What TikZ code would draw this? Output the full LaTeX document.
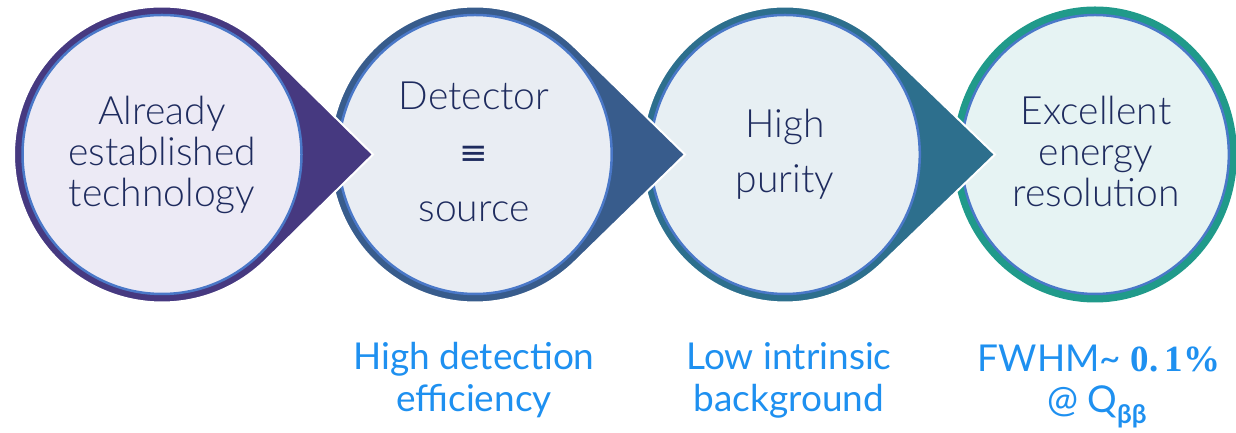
\documentclass[tikz,border=0pt]{standalone}
\usepackage{fontspec}
\setsansfont{Lato Light}[BoldFont={Lato Bold}]
\newfontfamily\botfont{Lato}
\newfontfamily\botbold{Lato Bold}
\newfontfamily\symfont{DejaVu Sans}
\newfontfamily\serbf{Liberation Serif}
\definecolor{ringA}{HTML}{463980}
\definecolor{ringB}{HTML}{385C8C}
\definecolor{ringC}{HTML}{2D6F8D}
\definecolor{ringD}{HTML}{209A8A}
\definecolor{fillA}{HTML}{ECEAF5}
\definecolor{fillB}{HTML}{E9EDF3}
\definecolor{fillC}{HTML}{E7EFF3}
\definecolor{fillD}{HTML}{E6F3F3}
\definecolor{innerblue}{HTML}{4A78C8}
\definecolor{navy}{HTML}{1E2B5E}
\definecolor{skyblue}{HTML}{1E90F0}
\newcommand\tdrop[5]{%
  \begin{scope}[shift={(#1,278.5)}, xscale=#2/148]
    \pgfmathsetmacro\tdd{(#3-#1)/#2*148}
    \pgfmathsetmacro\tdang{acos(148/\tdd)}
    \path[fill=#4, draw=white, line width=2pt] (\tdang:148)
      arc[start angle=\tdang, end angle=360-\tdang, radius=148] -- (\tdd,0) -- cycle;
    \path[fill=#5, draw=innerblue, line width=2.5pt] (0,0) circle[radius=139.5];
  \end{scope}}
\tikzset{
  toptext/.style={font=\sffamily\fontsize{39}{40}\selectfont, text=navy, inner sep=0pt, anchor=base},
  bottext/.style={font=\botfont\fontsize{37}{40}\selectfont, text=skyblue, inner sep=0pt, anchor=base}
}
\begin{document}
\begin{tikzpicture}[x=1pt,y=1pt]
\useasboundingbox (0,0) rectangle (1236,433);
% circle 4 (no arrow)
\begin{scope}[shift={(1095,278.5)}, xscale=142/148]
  \path[fill=ringD] (0,0) circle[radius=148];
  \path[fill=fillD, draw=innerblue, line width=2.5pt] (0,0) circle[radius=139.5];
\end{scope}
\tdrop{785}{143}{995}{ringC}{fillC}
\tdrop{475}{145}{685}{ringB}{fillB}
\tdrop{162}{148}{373}{ringA}{fillA}
% texts in circles
\node[toptext] (a1) at (162,308) {Already};
\node[toptext] (a2) at (162,267) {established};
\node[toptext] (a3) at (162,226) {technology};
\node[toptext] (b1) at (474,323) {Detector};
\node[toptext, anchor=center, font=\symfont\fontsize{34}{34}\selectfont] (b2) at (474,278) {≡};
\node[toptext] (b3) at (474,211) {source};
\node[toptext] (c1) at (785,295) {High};
\node[toptext] (c2) at (785,240) {purity};
\node[toptext] (d1) at (1096,308) {Excellent};
\node[toptext] (d2) at (1096,267) {energy};
\node[toptext] (d3) at (1096,226) {resolution};
% bottom texts
\node[bottext] (e1) at (474,63) {High detection};
\node[bottext] (e2) at (474,21) {efficiency};
\node[bottext] (f1) at (789,63) {Low intrinsic};
\node[bottext] (f2) at (789,21) {background};
\node[bottext] (g1) at (1099,61) {FWHM\char"7E{} {\serbf\bfseries 0.\,1\%}};
\node[bottext] (g2) at (1097,20) {@ Q\textsubscript{\botbold ββ}};
\end{tikzpicture}
\end{document}
